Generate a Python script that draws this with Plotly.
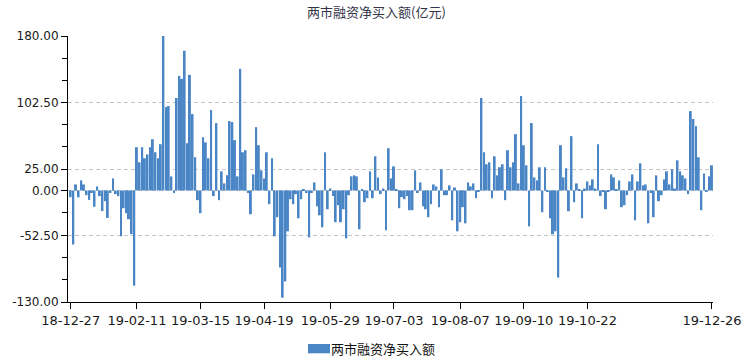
import plotly.graph_objects as go

# Net financing purchase (亿元), one value per trading day, 2018-12-27 .. 2019-12-26
values = [
    -7.8, -63, 7, -8, 11.7, 7, -5.5, -11, -3, -19,
    4.7, -6.6, -24, -12.5, -32, -3, 14, -4.3, -6.6, -53.5,
    -20.7, -26.5, -33.6, -51, -111, 50.4, 32.8, 50.4, 37.5, 42,
    50.4, 59.7, 44.5, 37.5, 53.9, 180, 97.2, 98.4, 16.4, -3,
    107.8, 133.5, 130, 162.8, 55, 134.7,
    89, 38.7, -11.3, -26.5, 62, 56, 37.5, 93.7, -6.6, 78.5,
    -11.3, 22.3, 8.2, 17.6, 80.8, 79.7, 58.6, 16.4, 141.7, 44.5,
    46.9, -3, -27.7, 18.7, 73.8, 52.7, 23.4, 14, 44.5, -16,
    37.5, -53.5, -31.2, -89.8, -125, -106, -47.6, -10.2, -16, -4.3,
    -32.4,
    -10.2, 1.2, -3, -54.7, -3, 9.4, -18.4, -29, -43, 44.5,
    -21.9, 2.3, -6.6, -37, -17.2, -37, -21.9, -55.8, -5.5, 16.4,
    17.6, 16.4, -45.3, 1.2, -13.7, -9, 22.3, -9, 39.8, 15.2,
    -4.3, 2.3, -46.5, 49.2, 14, 28, 1.2, -20.7, -7.8, -10.2,
    -6.6, -23, -23, 23.4, -3,
    9.4, -18.4, -21.9, -31.2, -16, 7, 4.7, -19.5, 24.6, -5.5,
    -5.5, 5.9, -34.8, 3.5, -47.6, -37, -19.5, -38.3, 9.4, 4.7,
    8.2, -9, -0.8, 107.8, 44.5, 30.5, 32.8, -9, 39.8, 17.6,
    27, 30.5, -11.3, 46.9, 27, 32.8, 65.6, 8.2, 110, 52.7,
    29.3, -41.8, 78.5, 15.2, 11.7,
    27, -25.4, 27, -0.8, -32.4, -51, -47.6, -101.5, 52.7, 15.2,
    25.8, -24.2, 63.3, -13.7, 8.2, 1.2, -32.4, 2.3, 10.5, 5.9,
    12.9, 2.3, 53.9, -6.6, -0.8, -21.9, -0.8, 18.7, 15.2, 1.2,
    11.7, -19.5, -17.2, -5.5, 10.5, 18.7, -34.8, 10.5, 31.6, 5.9,
    7, -38.3, -3, -31.2, 17.6, -12.5, -5.5, 12.9, 22.3, 7,
    24.6, 2.3, 35.1, 22.3, 17.6, 14, -4.3, 92.5, 83.2, 75,
    38.7, -23, 19.9, -0.8, 16.4, 29.3,
]
day_index = list(range(len(values)))

# x-axis labels and the trading-day index at which each one sits
tick_labels = ["18-12-27", "19-02-11", "19-03-15", "19-04-19", "19-05-29",
               "19-07-03", "19-08-07", "19-09-10", "19-10-22", "19-12-26"]
tick_index = [0, 25, 49, 73, 98, 122, 147, 171, 195, 242]

# y-axis labelled ticks and unlabelled minor ticks
y_ticks = [180, 102.5, 25, 0, -52.5, -130]
y_tick_text = ["180.00", "102.50", "25.00", "0.00", "-52.50", "-130.00"]
y_minor = [154.17, 128.33, 76.67, 50.83, -26.25, -78.33, -104.17]

series_name = "两市融资净买入额"
title_text = "两市融资净买入额(亿元)"
bar_color = "#4a86c5"

font_family = "DejaVu Sans, Noto Sans CJK SC, sans-serif"
cjk_family = "Noto Sans CJK SC, sans-serif"

# plot area in pixels: left 68, right 713, top 36, bottom 302
PL, PR, PT, PB = 68, 713, 36, 302
PW, PH = PR - PL, PB - PT


def px_x(p):
    return (p - PL) / PW


def px_y(p):
    return (PB - p) / PH


fig = go.Figure(
    go.Bar(
        x=day_index,
        y=values,
        name=series_name,
        marker=dict(color=bar_color, line=dict(width=0)),
        showlegend=False,
    )
)

fig.update_layout(
    width=753,
    height=360,
    margin=dict(l=PL, r=753 - PR, t=PT, b=360 - PB, pad=0, autoexpand=False),
    paper_bgcolor="white",
    plot_bgcolor="white",
    bargap=0.25,
    font=dict(family=font_family, size=12, color="#1a1a1a"),
    title=dict(
        text=title_text,
        x=0.5, xanchor="center",
        y=1 - 12.5 / 360, yanchor="middle",
        font=dict(family=cjk_family, size=13, color="#34344a"),
    ),
    xaxis=dict(
        range=[-1, 242.4],
        tickmode="array",
        tickvals=tick_index,
        ticktext=tick_labels,
        ticks="outside",
        ticklen=6,
        tickcolor="black",
        tickwidth=1,
        showline=True,
        linecolor="black",
        linewidth=1,
        showgrid=False,
        zeroline=False,
        tickfont=dict(size=13, color="#1a1a1a"),
        automargin=False,
        fixedrange=True,
    ),
    yaxis=dict(
        range=[-130, 180],
        tickmode="array",
        tickvals=y_ticks,
        ticktext=y_tick_text,
        ticks="outside",
        ticklen=6,
        tickcolor="black",
        tickwidth=1,
        showline=True,
        linecolor="black",
        linewidth=1,
        showgrid=True,
        gridcolor="#c4c4c4",
        griddash="4px,3px",
        zeroline=False,
        tickfont=dict(size=12, color="#1a1a1a"),
        minor=dict(
            tickmode="array",
            tickvals=y_minor,
            ticks="outside",
            ticklen=5,
            tickcolor="black",
            showgrid=False,
        ),
        automargin=False,
        fixedrange=True,
    ),
    shapes=[
        dict(
            type="rect", xref="paper", yref="paper",
            x0=px_x(308), x1=px_x(330), y0=px_y(353.3), y1=px_y(344),
            fillcolor=bar_color, line=dict(width=0), layer="above",
        )
    ],
    annotations=[
        dict(
            text=series_name, xref="paper", yref="paper",
            x=px_x(330), y=px_y(348.5), xanchor="left", yanchor="middle",
            showarrow=False, borderpad=0,
            font=dict(family=cjk_family, size=13, color="#111"),
        )
    ],
)

fig.write_html(
    "out.html",
    include_plotlyjs=True,
    config={"displayModeBar": False},
    post_script="document.body.style.margin='0';document.body.style.padding='0';",
)
